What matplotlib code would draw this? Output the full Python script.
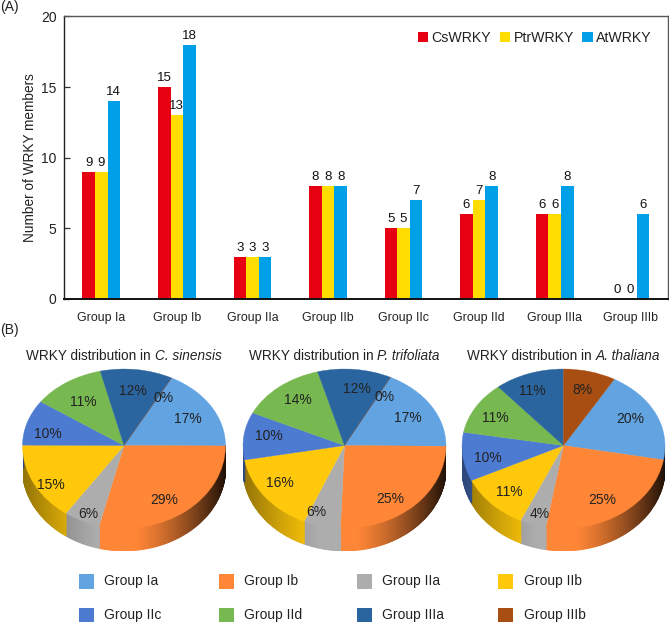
import numpy as np
import matplotlib
matplotlib.use("Agg")
import matplotlib.pyplot as plt
from matplotlib.patches import Rectangle
from matplotlib.colors import to_rgb

plt.rcParams['font.family'] = ['Liberation Sans', 'DejaVu Sans']

groups = ['Group Ia', 'Group Ib', 'Group IIa', 'Group IIb', 'Group IIc', 'Group IId', 'Group IIIa', 'Group IIIb']
cs = [9, 15, 3, 8, 5, 6, 6, 0]
ptr = [9, 13, 3, 8, 5, 7, 6, 0]
at = [14, 18, 3, 8, 7, 8, 8, 6]
series_names = ['CsWRKY', 'PtrWRKY', 'AtWRKY']
bar_colors = ['#E60012', '#FFDD00', '#00A0E9']
pie_colors = ['#62A3E2', '#FF8636', '#ADADAD', '#FFC80A', '#4D7BD2', '#78B850', '#2B659F', '#A84E12']
pct_cs = [17, 29, 6, 15, 10, 11, 12, 0]
pct_ptr = [17, 25, 6, 16, 10, 14, 12, 0]
pct_at = [20, 25, 4, 11, 10, 11, 11, 8]
species = ['C. sinensis', 'P. trifoliata', 'A. thaliana']

W, H = 669, 622
TXT = '#222222'
fig = plt.figure(figsize=(W / 100, H / 100), dpi=100, facecolor='white')

def box(l, t, r, b):
    return [l / W, 1 - b / H, (r - l) / W, (b - t) / H]

def fpx(x, y):
    return x / W, 1 - y / H

fig.text(*fpx(0, 7), '(A)', fontsize=10, ha='left', va='center', color=TXT)
fig.text(*fpx(0, 330), '(B)', fontsize=10, ha='left', va='center', color=TXT)

# ---- bar chart ----
ax = fig.add_axes(box(63.5, 16.5, 668, 299))
x = np.arange(len(groups))
bw = 1 / 6
for i, (vals, col, name) in enumerate(zip([cs, ptr, at], bar_colors, series_names)):
    ax.bar(x + (i - 1) * bw, vals, bw, color=col, label=name, linewidth=0)
    for xx, v in zip(x + (i - 1) * bw, vals):
        ax.annotate(str(v), (xx, v), xytext=(0, 2.2), textcoords='offset points',
                    ha='center', va='bottom', fontsize=9.5, color='#111111')
ax.set_xlim(-0.5, 7.5)
ax.set_ylim(0, 20)
ax.set_yticks([0, 5, 10, 15, 20])
ax.set_xticks(x)
ax.set_xticklabels(groups, fontsize=8.9, color=TXT)
ax.tick_params(axis='x', length=0, pad=9)
ax.tick_params(axis='y', direction='in', length=4, width=0.9, labelsize=10, pad=5, labelcolor=TXT, color='#333333')
ax.set_ylabel('Number of WRKY members', fontsize=9.8, color=TXT, labelpad=3)
for s in ['top', 'right']:
    ax.spines[s].set_color('#555555')
    ax.spines[s].set_linewidth(1.0)
ax.spines['left'].set_color('#222222')
ax.spines['left'].set_linewidth(1.0)
ax.spines['bottom'].set_color('#111111')
ax.spines['bottom'].set_linewidth(1.4)
ax.legend(loc='upper right', bbox_to_anchor=(0.973, 0.949), ncol=3, frameon=False, fontsize=10.2,
          handlelength=0.72, handleheight=0.72, handletextpad=0.25, columnspacing=0.6, borderpad=0, borderaxespad=0,
          labelcolor=TXT)

# ---- 3D-looking pies ----
DEPTH = 0.27
ratio = 74 / 80

def fwd(y):
    y = np.asarray(y, dtype=float)
    return np.where(y > 0, y * ratio, y)

def inv(y):
    y = np.asarray(y, dtype=float)
    return np.where(y > 0, y / ratio, y)

def shade(col, c):
    # c = cos(theta): -1 left rim, +1 right rim
    if c < -0.25:
        f = 1 - 0.42 * ((-c - 0.25) / 0.75) ** 1.2
    elif c < 0.1:
        f = 1.0
    else:
        f = 1 - 0.88 * ((c - 0.1) / 0.9) ** 1.3
    return tuple(v * f for v in to_rgb(col))

def draw_title(cx, name):
    pre = fig.text(0, 0, 'WRKY distribution in', fontsize=9.8, color=TXT, va='center', ha='left')
    it = fig.text(0, 0, name, fontsize=9.8, color=TXT, va='center', ha='left', style='italic')
    r = fig.canvas.get_renderer()
    w0 = pre.get_window_extent(r).width + 3.8
    w1 = it.get_window_extent(r).width
    left = cx - (w0 + w1) / 2
    pre.set_position(fpx(left, 355.5))
    it.set_position(fpx(left + w0, 355.5))

def draw_pie(cx, counts, start_top, pct, species_name, label_pos):
    a = fig.add_axes(box(cx - 101.5, 369, cx + 101.5, 449 + 80 + 22))
    wedges, _ = a.pie(counts, colors=pie_colors, startangle=90 - start_top, counterclock=False,
                      radius=1.0, center=(0, 0), wedgeprops=dict(linewidth=0.25, zorder=3))
    for w, c in zip(wedges, pie_colors):
        w.set_edgecolor(c)
    a.set_aspect('auto')
    a.set_xlim(-1, 1)
    a.set_yscale('function', functions=(fwd, inv))
    a.set_ylim(-102 / 80, 80 / 80)
    a.set_xticks([]); a.set_yticks([])
    a.minorticks_off()
    a.axis('off')
    # side wall
    fr = np.cumsum([0] + list(counts)) / np.sum(counts)
    for k in range(len(counts)):
        t0 = np.radians(90 - start_top - 360 * fr[k])
        t1 = np.radians(90 - start_top - 360 * fr[k + 1])
        n = max(int(abs(t1 - t0) / np.radians(1.0)), 1)
        th = np.linspace(t0, t1, n + 1)
        for p, q in zip(th[:-1], th[1:]):
            m = (p + q) / 2
            if np.sin(m) < 0.02:
                xs = np.cos([p, q, q, p])
                top = np.minimum(np.sin([p, q]), 0)
                ys = [top[0], top[1], top[1] - DEPTH, top[0] - DEPTH]
                c = shade(pie_colors[k], np.cos(m))
                a.fill(xs, ys, facecolor=c, edgecolor=c, lw=1.0, zorder=1)
    for (px, py), v in zip(label_pos, pct):
        fig.text(*fpx(px, py), f'{v}%', fontsize=10, ha='center', va='center', color=TXT, zorder=10)
    draw_title(cx, species_name)

draw_pie(124, cs, 28, pct_cs, species[0],
         [(188, 419), (164, 500), (88.5, 514), (51, 485), (48, 434), (83, 402), (133, 391), (164, 398)])
draw_pie(344.5, ptr, 27, pct_ptr, species[1],
         [(408, 418), (390, 499), (316, 512), (280, 483), (269, 436), (298, 400), (357, 389), (385, 397)])
draw_pie(563.5, at, 30, pct_at, species[2],
         [(630, 419), (602, 500), (540, 514), (509, 492), (488, 458), (495, 418), (532, 391), (582, 390)])

# ---- bottom legend ----
leg_ax = fig.add_axes([0, 0, 1, 1], facecolor='none')
leg_ax.set_xlim(0, W); leg_ax.set_ylim(H, 0); leg_ax.axis('off')
xs = [79, 219, 357, 498]
ys = [581.5, 615]
for i, (g, c) in enumerate(zip(groups, pie_colors)):
    xx = xs[i % 4]; yy = ys[i // 4]
    leg_ax.add_patch(Rectangle((xx, yy - 7.5), 15, 15, color=c, lw=0))
    leg_ax.text(xx + 25.5, yy, g, fontsize=10, ha='left', va='center', color=TXT)

fig.savefig('out.png', dpi=100)
